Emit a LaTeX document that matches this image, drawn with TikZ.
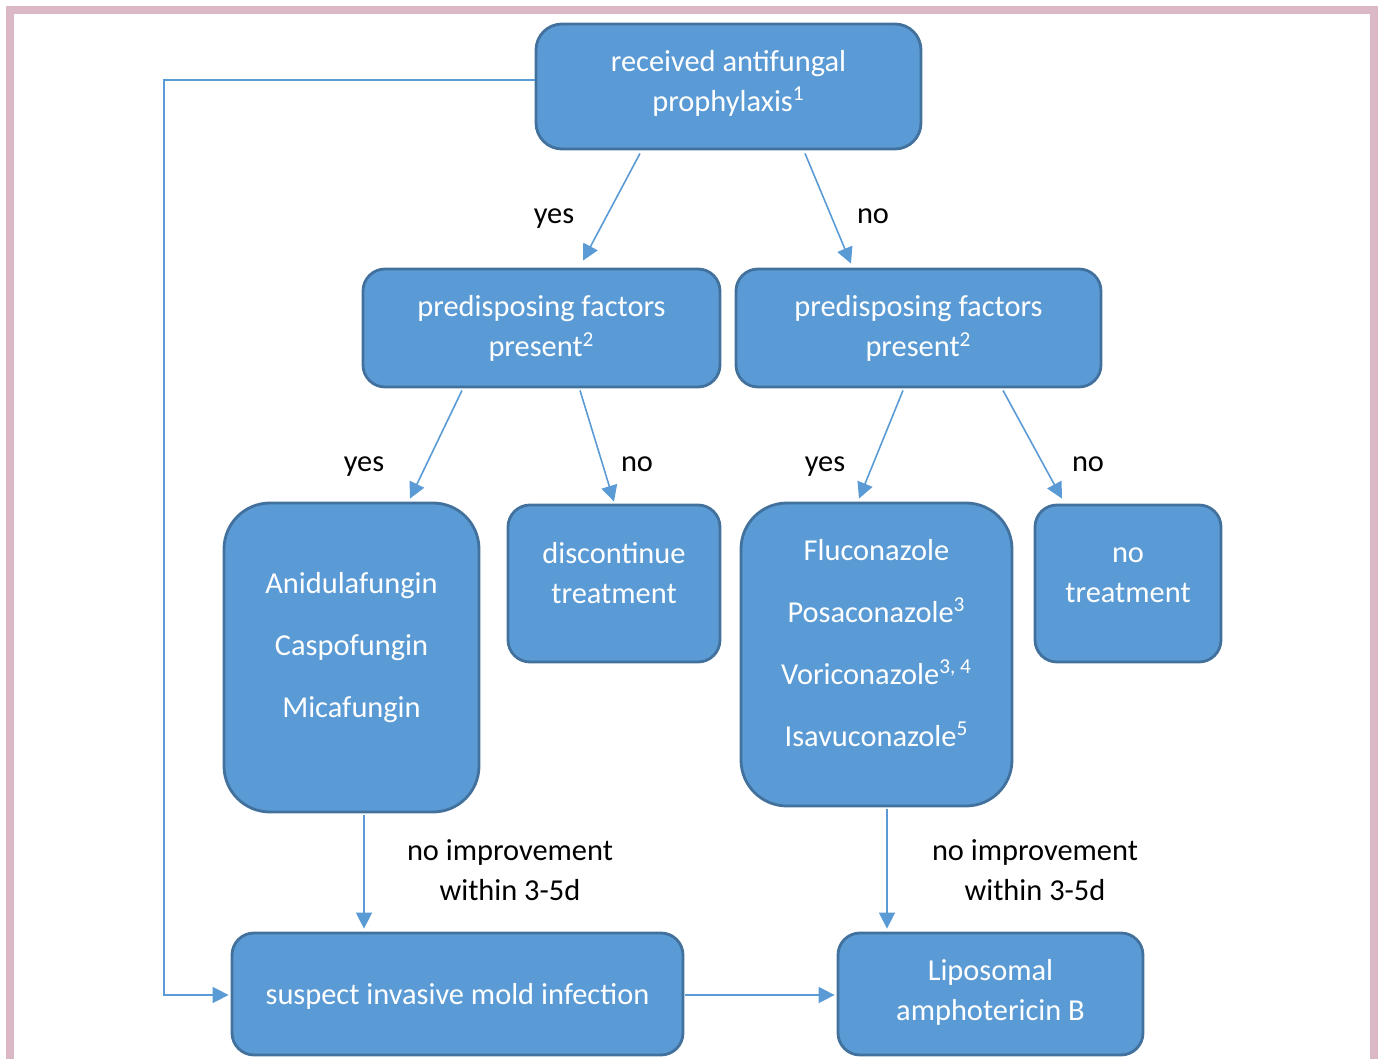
\documentclass[tikz,border=0pt]{standalone}
\usepackage{fontspec}
\setmainfont{Carlito}
\usetikzlibrary{arrows.meta,calc}
\definecolor{boxfill}{HTML}{5B9BD5}
\definecolor{boxdraw}{HTML}{41719C}
\definecolor{frame}{HTML}{DBB8C6}
\begin{document}
\begin{tikzpicture}[x=0.5pt,y=-0.5pt,
  box/.style={draw=boxdraw,fill=boxfill,line width=1.4pt,rectangle,rounded corners=11pt,inner sep=0pt},
  boxtext/.style={text=white,align=center,font=\fontsize{15.2pt}{20pt}\selectfont,inner sep=0pt},
  lbl/.style={text=black,align=center,font=\fontsize{15.2pt}{20pt}\selectfont,inner sep=0pt},
  arr/.style={draw=boxfill,line width=0.8pt,-{Triangle[length=8pt,width=8pt]}}]
\useasboundingbox (0,0) rectangle (1378,1059);
% frame
\fill[frame] (6,6) rectangle (1378,14);
\fill[frame] (6,6) rectangle (14,1059);
\fill[frame] (1370,6) rectangle (1378,1059);
% boxes
\node[box,minimum width=385pt/2,minimum height=125pt/2,rounded corners=13pt] (top) at (728.5,86.5) {};
\node[boxtext] (ttop) at (728.5,83) {received antifungal\\prophylaxis\textsuperscript{1}};
\node[box,minimum width=357pt/2,minimum height=118pt/2] (pfL) at (541.5,328) {};
\node[boxtext] (tpfL) at (541.5,328.5) {predisposing factors\\present\textsuperscript{2}};
\node[box,minimum width=365pt/2,minimum height=118pt/2] (pfR) at (918.5,328) {};
\node[boxtext] (tpfR) at (918.5,328.5) {predisposing factors\\present\textsuperscript{2}};
\node[box,minimum width=255pt/2,minimum height=309pt/2,rounded corners=23pt] (echino) at (351.5,657.5) {};
\node[boxtext,font=\fontsize{15.2pt}{31pt}\selectfont] (techino) at (351.5,648) {Anidulafungin\\Caspofungin\\Micafungin};
\node[box,minimum width=212pt/2,minimum height=157pt/2] (disc) at (614,583.5) {};
\node[boxtext] (tdisc) at (614,573.5) {discontinue\\treatment};
\node[box,minimum width=271pt/2,minimum height=303pt/2,rounded corners=23pt] (azoles) at (876.5,654.5) {};
\node[boxtext,font=\fontsize{15.2pt}{31pt}\selectfont] (tazoles) at (876.5,643) {Fluconazole\\Posaconazole\textsuperscript{3}\\Voriconazole\textsuperscript{3, 4}\\Isavuconazole\textsuperscript{5}};
\node[box,minimum width=186pt/2,minimum height=157pt/2] (notreat) at (1128,583.5) {};
\node[boxtext] (tnotreat) at (1128,575) {no\\treatment};
\node[box,minimum width=451pt/2,minimum height=122pt/2] (suspect) at (457.5,994) {};
\node[boxtext] (tsuspect) at (457.5,996) {suspect invasive mold infection};
\node[box,minimum width=305pt/2,minimum height=122pt/2] (lipo) at (990.5,994) {};
\node[boxtext] (tlipo) at (990.5,992) {Liposomal\\amphotericin B};
% arrows
\draw[arr] ($(top.south)+(-88.5,3)$) -- ($(pfL.north)+(41.5,-7)$);
\draw[arr] ($(top.south)+(76.5,3)$) -- ($(pfR.north)+(-67.5,-4)$);
\draw[arr] ($(pfL.south)+(-79.5,2)$) -- ($(echino.north)+(58.5,-3)$);
\draw[arr] ($(pfL.south)+(38.5,2)$) -- ($(disc.north)+(0,-2)$);
\draw[arr] ($(pfR.south)+(-15.5,2)$) -- ($(azoles.north)+(-17.5,-3)$);
\draw[arr] ($(pfR.south)+(84.5,2)$) -- ($(notreat.north)+(-66,-5)$);
\draw[arr] ($(echino.south)+(12.5,2)$) -- ($(suspect.north)+(-93.5,-3)$);
\draw[arr] ($(azoles.south)+(10.5,2)$) -- ($(lipo.north)+(-103.5,-3)$);
\coordinate (c1) at (164,80);
\coordinate (c2) at (164,995);
\draw[arr] ($(top.west)+(0,-6.5)$) -- (c1) -- (c2) -- ($(suspect.west)+(-2,1)$);
\draw[arr] ($(suspect.east)+(1,1)$) -- ($(lipo.west)+(-2,1)$);
% labels
\node[lbl] (l1) at (554,219) {yes};
\node[lbl] (l2) at (873,216) {no};
\node[lbl] (l3) at (364,467) {yes};
\node[lbl] (l4) at (637,464) {no};
\node[lbl] (l5) at (825,467) {yes};
\node[lbl] (l6) at (1088,464) {no};
\node[lbl] (l7) at (510,870) {no improvement\\within 3-5d};
\node[lbl] (l8) at (1035,870) {no improvement\\within 3-5d};
\end{tikzpicture}
\end{document}
